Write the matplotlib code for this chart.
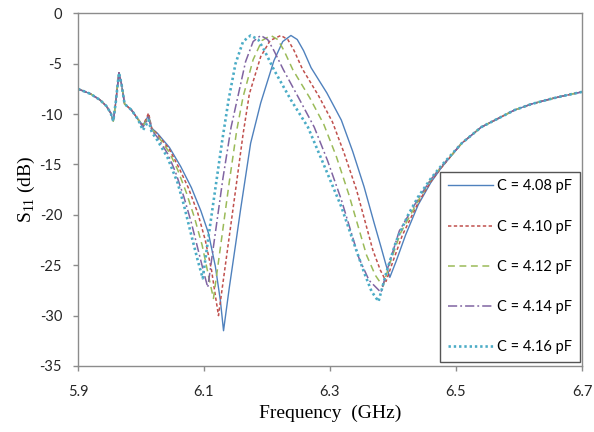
import matplotlib
matplotlib.use('Agg')
import matplotlib.pyplot as plt
from matplotlib.patches import Rectangle

# Shared low-frequency part (all five curves lie on top of each other here)
HEAD_F = [5.900, 5.920, 5.935, 5.945, 5.952, 5.956, 5.960, 5.965, 5.969, 5.974, 5.985, 5.995]
HEAD_DB = [-7.5, -8.0, -8.6, -9.2, -9.9, -10.7, -8.8, -5.9, -7.0, -9.0, -9.6, -10.5]

# Shared high-frequency tail
TAIL_F = [6.509, 6.540, 6.593, 6.620, 6.650, 6.670, 6.700]
TAIL_DB = [-12.9, -11.3, -9.6, -9.0, -8.5, -8.2, -7.8]

# C = 4.08 pF
F_408 = [6.003, 6.008, 6.012, 6.017, 6.026, 6.045, 6.063, 6.080, 6.095, 6.107,
         6.118, 6.126, 6.131, 6.140, 6.150, 6.158, 6.174, 6.190, 6.211, 6.225,
         6.238, 6.248, 6.258, 6.270, 6.295, 6.318, 6.336, 6.354, 6.370, 6.381,
         6.389, 6.395, 6.405, 6.420, 6.440, 6.460, 6.477]
S_408 = [-11.1, -10.6, -10.1, -11.4, -11.9, -13.3, -15.2, -17.3, -19.6, -21.8,
         -25.1, -28.5, -31.5, -27.3, -23.0, -19.5, -12.9, -8.9, -4.7, -2.8,
         -2.2, -2.6, -3.7, -5.4, -7.9, -10.6, -13.7, -17.2, -20.8, -23.2,
         -25.0, -26.2, -24.6, -22.0, -19.0, -16.8, -15.3]

# C = 4.10 pF
F_410 = [6.003, 6.008, 6.012, 6.017, 6.026, 6.045, 6.060, 6.075, 6.090, 6.102,
         6.112, 6.118, 6.123, 6.135, 6.150, 6.162, 6.172, 6.190, 6.205, 6.222,
         6.233, 6.243, 6.256, 6.282, 6.304, 6.322, 6.342, 6.368, 6.380, 6.389,
         6.400, 6.415, 6.440, 6.460, 6.477]
S_410 = [-11.1, -10.5, -9.9, -11.4, -12.0, -13.5, -15.3, -17.3, -19.8, -22.5,
         -25.5, -28.0, -30.0, -24.5, -17.6, -12.0, -8.0, -4.3, -2.7, -2.2,
         -2.6, -3.7, -5.5, -8.2, -10.8, -13.8, -17.5, -23.5, -25.5, -26.6,
         -24.6, -22.0, -18.8, -16.7, -15.3]

# C = 4.12 pF
F_412 = [6.003, 6.008, 6.012, 6.017, 6.026, 6.045, 6.058, 6.072, 6.085, 6.097,
         6.107, 6.115, 6.127, 6.140, 6.152, 6.162, 6.178, 6.192, 6.206, 6.217,
         6.227, 6.241, 6.268, 6.290, 6.310, 6.330, 6.358, 6.372, 6.384, 6.395,
         6.412, 6.440, 6.460, 6.477]
S_412 = [-11.2, -10.7, -10.2, -11.5, -12.1, -13.8, -15.5, -17.8, -20.3, -23.0,
         -26.0, -28.3, -22.8, -16.8, -11.6, -8.3, -4.6, -2.7, -2.2, -2.6,
         -3.7, -5.6, -8.4, -11.0, -14.2, -18.0, -24.0, -26.0, -27.1, -24.8,
         -21.8, -18.6, -16.5, -15.2]

# C = 4.14 pF
F_414 = [6.003, 6.008, 6.012, 6.017, 6.026, 6.043, 6.055, 6.068, 6.080, 6.092,
         6.100, 6.106, 6.118, 6.130, 6.143, 6.154, 6.166, 6.178, 6.190, 6.201,
         6.211, 6.226, 6.252, 6.275, 6.296, 6.318, 6.346, 6.362, 6.381, 6.392,
         6.410, 6.440, 6.460, 6.477]
S_414 = [-11.3, -10.8, -10.3, -11.6, -12.3, -14.0, -15.8, -18.2, -20.8, -23.8,
         -25.8, -27.2, -21.8, -16.4, -11.3, -8.2, -4.8, -2.8, -2.2, -2.6,
         -3.7, -5.6, -8.6, -11.3, -14.6, -18.5, -24.3, -26.5, -27.7, -25.2,
         -21.6, -18.4, -16.5, -15.2]

# C = 4.16 pF
F_416 = [6.003, 6.008, 6.012, 6.017, 6.026, 6.042, 6.058, 6.068, 6.079, 6.090,
         6.098, 6.108, 6.118, 6.129, 6.139, 6.150, 6.162, 6.174, 6.186, 6.196,
         6.211, 6.238, 6.265, 6.290, 6.318, 6.340, 6.354, 6.366, 6.377, 6.390,
         6.405, 6.424, 6.440, 6.460, 6.477]
S_416 = [-11.6, -11.1, -10.6, -11.8, -12.6, -14.3, -16.8, -19.0, -21.8, -24.5,
         -26.3, -21.8, -17.4, -12.6, -8.6, -5.0, -2.8, -2.2, -2.6, -3.7,
         -5.6, -8.6, -11.3, -15.0, -19.2, -23.2, -25.7, -27.6, -28.6, -25.6,
         -22.6, -20.0, -18.2, -16.4, -15.1]

LABELS = ['C = 4.08 pF', 'C = 4.10 pF', 'C = 4.12 pF', 'C = 4.14 pF', 'C = 4.16 pF']
X_TICKS = [5.9, 6.1, 6.3, 6.5, 6.7]
Y_TICKS = [0, -5, -10, -15, -20, -25, -30, -35]

series = [(F_408, S_408), (F_410, S_410), (F_412, S_412), (F_414, S_414), (F_416, S_416)]

# Excel-2007 like palette and line styles
colors = ['#4F81BD', '#C0504D', '#9BBB59', '#8064A2', '#4BACC6']
styles = ['-', (0, (2.2, 1.6)), (0, (4.5, 3.0)), (0, (6, 2, 1.2, 2)), (0, (0.9, 1.1))]
widths = [1.0, 1.1, 1.1, 1.1, 1.9]

plt.rcParams['mathtext.fontset'] = 'custom'
plt.rcParams['mathtext.rm'] = 'Liberation Serif'

fig = plt.figure(figsize=(5.94, 4.32), dpi=100)
ax = fig.add_axes([0.1313, 0.1528, 0.8485, 0.8164])

lines = []
for (f, s), c, ls, lw, lab in zip(series, colors, styles, widths, LABELS):
    line, = ax.plot(HEAD_F + f + TAIL_F, HEAD_DB + s + TAIL_DB, color=c,
                    linestyle=ls, linewidth=lw, label=lab)
    lines.append(line)

ax.set_xlim(5.9, 6.7)
ax.set_ylim(-35, 0)
ax.set_xticks(X_TICKS)
ax.set_xticklabels([f'{t:.1f}' for t in X_TICKS])
ax.set_yticks(Y_TICKS)
ax.set_yticklabels([str(t) for t in Y_TICKS])

# Grey frame and outside ticks on left/bottom only
for sp in ax.spines.values():
    sp.set_color('#8c8c8c')
    sp.set_linewidth(1.0)
ax.tick_params(axis='both', direction='out', length=3.5, width=1.0, color='#8c8c8c',
               labelsize=10.5, labelcolor='#262626')
ax.tick_params(axis='x', pad=10)
ax.tick_params(axis='y', pad=8)
for lab in ax.get_xticklabels() + ax.get_yticklabels():
    lab.set_family('Lato')

ax.set_xlabel('Frequency  (GHz)', family='Liberation Serif', fontsize=14, labelpad=4)
ax.set_ylabel(r'S$_{11}$ (dB)', family='Liberation Serif', fontsize=14, labelpad=2)

# Legend box in the lower right corner
ax.add_patch(Rectangle((0.718, 0.011), 0.279, 0.54, transform=ax.transAxes,
                       fill=True, facecolor='white', edgecolor='#555555',
                       linewidth=1.0, zorder=4))
leg = ax.legend(handles=lines, loc='center', bbox_to_anchor=(0.718, 0.011, 0.279, 0.54),
                frameon=False, prop={'family': 'Lato', 'size': 10.5},
                handlelength=3.1, handletextpad=0.3, labelspacing=1.8)
leg.set_zorder(5)

fig.savefig('out.png', dpi=100)
